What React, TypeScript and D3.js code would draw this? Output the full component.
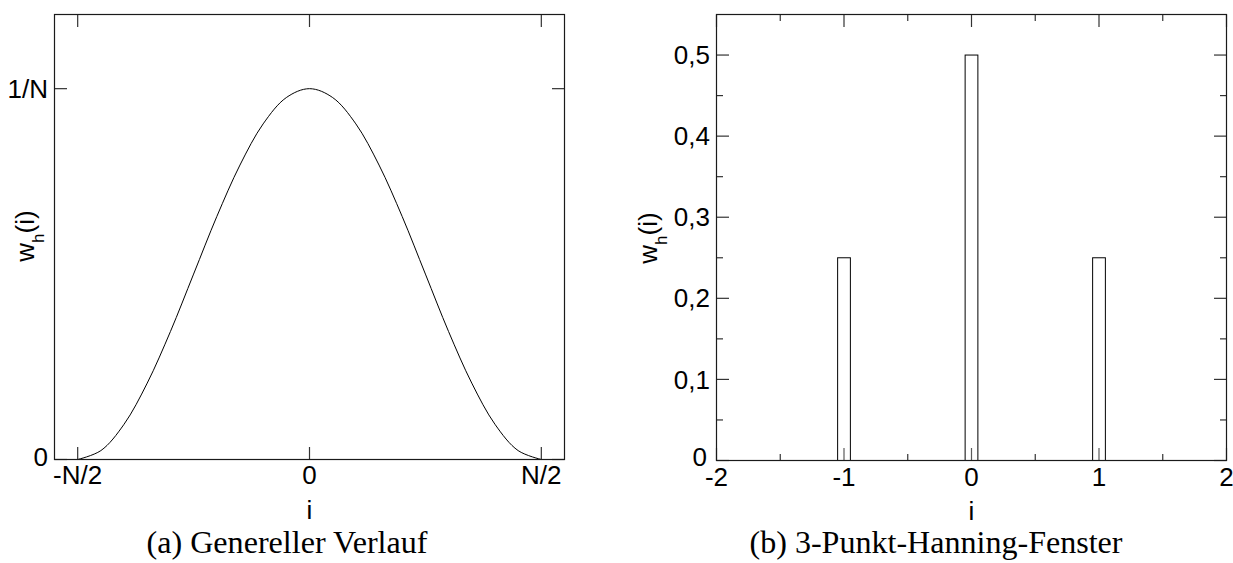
import React from "react";
import * as d3 from "d3";

// ---------- data ----------
// (a) general course: i in units of N, w in units of 1/N
const curveI = [-0.5, -0.45, -0.4, -0.35, -0.3, -0.25, -0.2, -0.15, -0.1, -0.05, 0, 0.05, 0.1, 0.15, 0.2, 0.25, 0.3, 0.35, 0.4, 0.45, 0.5];
const curveW = [0, 0.024, 0.095, 0.206, 0.345, 0.5, 0.655, 0.794, 0.905, 0.976, 1, 0.976, 0.905, 0.794, 0.655, 0.5, 0.345, 0.206, 0.095, 0.024, 0];
const leftXTicks = [-0.5, 0, 0.5];
const leftXTickLabels = ["-N/2", "0", "N/2"];
const leftYTicks = [0, 1];
const leftYTickLabels = ["0", "1/N"];

// (b) 3-point Hanning window
const barI = [-1, 0, 1];
const barW = [0.25, 0.5, 0.25];
const barHalfWidth = 0.05;
const rightXTicks = [-2, -1, 0, 1, 2];
const rightXMinor = [-1.5, -0.5, 0.5, 1.5];
const rightXTickLabels = ["-2", "-1", "0", "1", "2"];
const rightYTicks = [0, 0.1, 0.2, 0.3, 0.4, 0.5];
const rightYMinor = [0.05, 0.15, 0.25, 0.35, 0.45];
const rightYTickLabels = ["0", "0,1", "0,2", "0,3", "0,4", "0,5"];

const SANS = "'Liberation Sans', Arial, sans-serif";
const SERIF = "'Liberation Serif', 'Times New Roman', serif";
const FRAME = "#1a1a1a";
const TICK = "#333";

function YLabel({ x, y }: { x: number; y: number }) {
  return (
    <text transform={`translate(${x},${y}) rotate(-90)`} textAnchor="middle" fontFamily={SANS} fontSize={26} fill="#000">
      <tspan>w</tspan>
      <tspan fontSize={17} dy={10}>h</tspan>
      <tspan dy={-10}>(i)</tspan>
    </text>
  );
}

export default function App() {
  // ---- left panel scales ----
  const lx = d3.scaleLinear().domain([-0.55, 0.55]).range([54.5, 564.5]);
  const ly = d3.scaleLinear().domain([0, 1.2]).range([459.5, 14.5]);
  const line = d3
    .line<number>()
    .x((_, k) => lx(curveI[k]))
    .y((d) => ly(d))
    .curve(d3.curveCatmullRom.alpha(0.5));
  const curvePath = line(curveW) || "";

  // ---- right panel scales ----
  const rx = d3.scaleLinear().domain([-2, 2]).range([716.5, 1226.5]);
  const ry = d3.scaleLinear().domain([0, 0.55]).range([460.5, 14.5]);

  const major = 12.5;
  const minor = 6.5;

  const [lx0, lx1] = lx.range();
  const [ly0, ly1] = ly.range();
  const [rx0, rx1] = rx.range();
  const [ry0, ry1] = ry.range();

  return (
    <svg width={1233} height={563} style={{ position: "absolute", left: 0, top: 0, background: "#fff" }}>
      <rect x={0} y={0} width={1233} height={563} fill="#fff" />

      {/* ================= LEFT PANEL ================= */}
      <path d={curvePath} fill="none" stroke="#000" strokeWidth={1} />
      {leftXTicks.map((t, k) => (
        <g key={"lxt" + k}>
          <line x1={lx(t)} x2={lx(t)} y1={ly0} y2={ly0 - major} stroke={TICK} strokeWidth={1.2} />
          <line x1={lx(t)} x2={lx(t)} y1={ly1} y2={ly1 + major} stroke={TICK} strokeWidth={1.2} />
          <text x={lx(t)} y={484} textAnchor="middle" fontFamily={SANS} fontSize={26} fill="#000">
            {leftXTickLabels[k]}
          </text>
        </g>
      ))}
      {leftYTicks.map((t, k) => (
        <g key={"lyt" + k}>
          <line x1={lx0} x2={lx0 + major} y1={ly(t)} y2={ly(t)} stroke={TICK} strokeWidth={1.2} />
          <line x1={lx1} x2={lx1 - major} y1={ly(t)} y2={ly(t)} stroke={TICK} strokeWidth={1.2} />
          <text x={48} y={ly(t) - (t === 0 ? 3 : 0)} dy="0.35em" textAnchor="end" fontFamily={SANS} fontSize={26} fill="#000">
            {leftYTickLabels[k]}
          </text>
        </g>
      ))}
      <rect x={lx0} y={ly1} width={lx1 - lx0} height={ly0 - ly1} fill="none" stroke={FRAME} strokeWidth={1.2} />
      <text x={lx(0)} y={519} textAnchor="middle" fontFamily={SANS} fontSize={26} fill="#000">i</text>
      <YLabel x={34} y={236} />
      <text x={287} y={553} textAnchor="middle" fontFamily={SERIF} fontSize={31} fill="#000" textLength={281} lengthAdjust="spacingAndGlyphs">
        (a) Genereller Verlauf
      </text>

      {/* ================= RIGHT PANEL ================= */}
      {barI.map((b, k) => (
        <rect
          key={"bar" + k}
          x={rx(b - barHalfWidth)}
          y={ry(barW[k])}
          width={rx(b + barHalfWidth) - rx(b - barHalfWidth)}
          height={ry(0) - ry(barW[k])}
          fill="#fff"
          stroke="#000"
          strokeWidth={1}
        />
      ))}
      {rightXTicks.map((t, k) => (
        <g key={"rxt" + k}>
          <line x1={rx(t)} x2={rx(t)} y1={ry0} y2={ry0 - major} stroke={TICK} strokeWidth={1.2} opacity={0.8} />
          <line x1={rx(t)} x2={rx(t)} y1={ry1} y2={ry1 + major} stroke={TICK} strokeWidth={1.2} />
          <text x={rx(t)} y={486} textAnchor="middle" fontFamily={SANS} fontSize={26} fill="#000">
            {rightXTickLabels[k]}
          </text>
        </g>
      ))}
      {rightXMinor.map((t, k) => (
        <g key={"rxm" + k}>
          <line x1={rx(t)} x2={rx(t)} y1={ry0} y2={ry0 - minor} stroke={TICK} strokeWidth={1.2} />
          <line x1={rx(t)} x2={rx(t)} y1={ry1} y2={ry1 + minor} stroke={TICK} strokeWidth={1.2} />
        </g>
      ))}
      {rightYTicks.map((t, k) => (
        <g key={"ryt" + k}>
          <line x1={rx0} x2={rx0 + major} y1={ry(t)} y2={ry(t)} stroke={TICK} strokeWidth={1.2} />
          <line x1={rx1} x2={rx1 - major} y1={ry(t)} y2={ry(t)} stroke={TICK} strokeWidth={1.2} />
          <text x={t === 0 ? 707 : 710} y={ry(t) - (t === 0 ? 4 : 0)} dy="0.35em" textAnchor="end" fontFamily={SANS} fontSize={26} fill="#000">
            {rightYTickLabels[k]}
          </text>
        </g>
      ))}
      {rightYMinor.map((t, k) => (
        <g key={"rym" + k}>
          <line x1={rx0} x2={rx0 + minor} y1={ry(t)} y2={ry(t)} stroke={TICK} strokeWidth={1.2} />
          <line x1={rx1} x2={rx1 - minor} y1={ry(t)} y2={ry(t)} stroke={TICK} strokeWidth={1.2} />
        </g>
      ))}
      <rect x={rx0} y={ry1} width={rx1 - rx0} height={ry0 - ry1} fill="none" stroke={FRAME} strokeWidth={1.2} />
      <text x={rx(0)} y={520} textAnchor="middle" fontFamily={SANS} fontSize={26} fill="#000">i</text>
      <YLabel x={657} y={238} />
      <text x={936} y={553} textAnchor="middle" fontFamily={SERIF} fontSize={31} fill="#000" textLength={373} lengthAdjust="spacingAndGlyphs">
        (b) 3-Punkt-Hanning-Fenster
      </text>
    </svg>
  );
}
